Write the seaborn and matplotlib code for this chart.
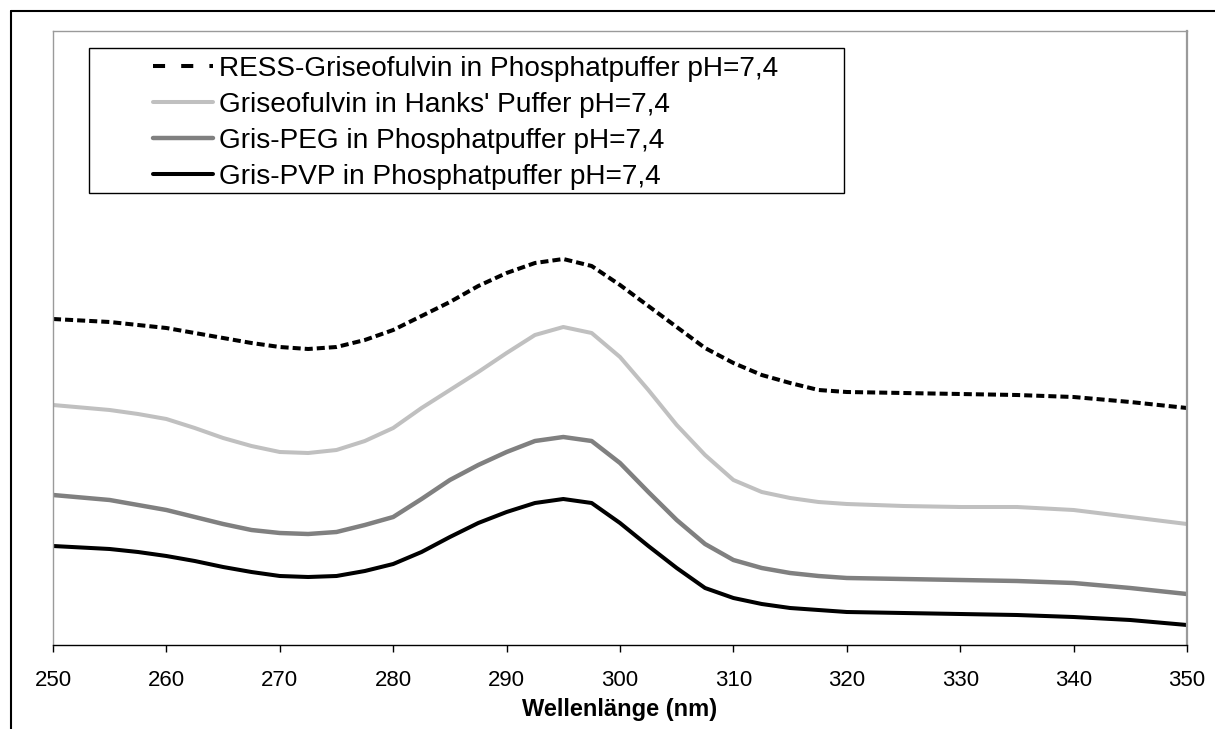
import matplotlib
matplotlib.use("Agg")
import matplotlib.pyplot as plt
from matplotlib.lines import Line2D
from matplotlib.patches import Rectangle
import seaborn as sns
import pandas as pd

# wavelength (nm) and absorbance in arbitrary units
wavelength = [250, 255, 257.5, 260, 262.5, 265, 267.5, 270, 272.5, 275, 277.5, 280, 282.5, 285,
              287.5, 290, 292.5, 295, 297.5, 300, 302.5, 305, 307.5, 310, 312.5, 315, 317.5, 320,
              325, 330, 335, 340, 345, 350]

ress = [326, 323, 320, 317, 312, 307, 302, 298, 296, 298, 305, 315, 329, 343,
        359, 372, 382, 386, 379, 360, 339, 318, 297, 282, 270, 262, 255, 253,
        252, 251, 250, 248, 243, 237]
hanks = [240, 235, 231, 226, 217, 207, 199, 193, 192, 195, 204, 217, 237, 255,
         273, 292, 310, 318, 312, 288, 255, 220, 190, 165, 153, 147, 143, 141,
         139, 138, 138, 135, 128, 121]
peg = [150, 145, 140, 135, 128, 121, 115, 112, 111, 113, 120, 128, 146, 165,
       180, 193, 204, 208, 204, 182, 153, 125, 101, 85, 77, 72, 69, 67,
       66, 65, 64, 62, 57, 51]
pvp = [99, 96, 93, 89, 84, 78, 73, 69, 68, 69, 74, 81, 93, 108,
       122, 133, 142, 146, 142, 122, 99, 77, 57, 47, 41, 37, 35, 33,
       32, 31, 30, 28, 25, 20]

labels = ["RESS-Griseofulvin in Phosphatpuffer pH=7,4",
          "Griseofulvin in Hanks' Puffer pH=7,4",
          "Gris-PEG in Phosphatpuffer pH=7,4",
          "Gris-PVP in Phosphatpuffer pH=7,4"]
xticks = [250, 260, 270, 280, 290, 300, 310, 320, 330, 340, 350]
xlabel = "Wellenlänge (nm)"

sns.set_theme(style="white")
plt.rcParams['font.family'] = ['Liberation Sans', 'DejaVu Sans']
plt.rcParams['text.color'] = 'black'
plt.rcParams['axes.labelcolor'] = 'black'
plt.rcParams['xtick.color'] = 'black'
plt.rcParams['xtick.labelcolor'] = 'black'

fig = plt.figure(figsize=(12.15, 7.29), dpi=100)
ax = fig.add_axes([53/1215, (729-645)/729, (1187-53)/1215, (645-31)/729])

series = [ress, hanks, peg, pvp]
colors = ["#000000", "#c0c0c0", "#808080", "#000000"]
widths = [2.9, 2.9, 3.2, 2.9]
for vals, lab, col, lw in zip(series, labels, colors, widths):
    df = pd.DataFrame({"x": wavelength, "y": vals})
    sns.lineplot(data=df, x="x", y="y", ax=ax, color=col, linewidth=lw, label=lab)
ax.lines[0].set_dashes((2.0, 1.0))

ax.set_xlim(250, 350)
ax.set_ylim(0, 614)
ax.set_xticks(xticks)
ax.set_xticklabels([str(t) for t in xticks], fontsize=16, color="black")
ax.set_yticks([])
ax.set_ylabel("")
ax.set_xlabel(xlabel, fontsize=17, fontweight="bold", labelpad=5, color="black")
ax.tick_params(axis="x", direction="out", length=5, width=1, color="black", bottom=True, pad=12.7)

for s in ["left", "top"]:
    ax.spines[s].set_color("#9a9a9a")
    ax.spines[s].set_linewidth(1)
ax.spines["right"].set_color("#9a9a9a")
ax.spines["right"].set_linewidth(1.6)
ax.spines["bottom"].set_color("black")
ax.spines["bottom"].set_linewidth(1)

# legend frame drawn manually
x0, x1 = (89-53)/1134, (844-53)/1134
y0, y1 = (645-193)/614, (645-48)/614
ax.add_patch(Rectangle((x0, y0), x1-x0, y1-y0, transform=ax.transAxes,
                       fill=True, facecolor="white", edgecolor="black", linewidth=1, zorder=5))
leg = ax.legend(loc="upper left", bbox_to_anchor=((153-53)/1134, (645-56)/614),
                frameon=False, fontsize=20.2, handlelength=2.14, handletextpad=0.22,
                labelspacing=0.36, borderpad=0, borderaxespad=0, labelcolor="black")
leg.set_zorder(6)
leg.get_lines()[0].set_dashes((3, 4))

# outer border (top and left)
fig.add_artist(Line2D([11/1215, 1.0], [1-11/729, 1-11/729], transform=fig.transFigure, color="black", linewidth=1.5))
fig.add_artist(Line2D([11/1215, 11/1215], [0, 1-11/729], transform=fig.transFigure, color="black", linewidth=1.5))

fig.savefig("out.png", dpi=100, facecolor="white")
